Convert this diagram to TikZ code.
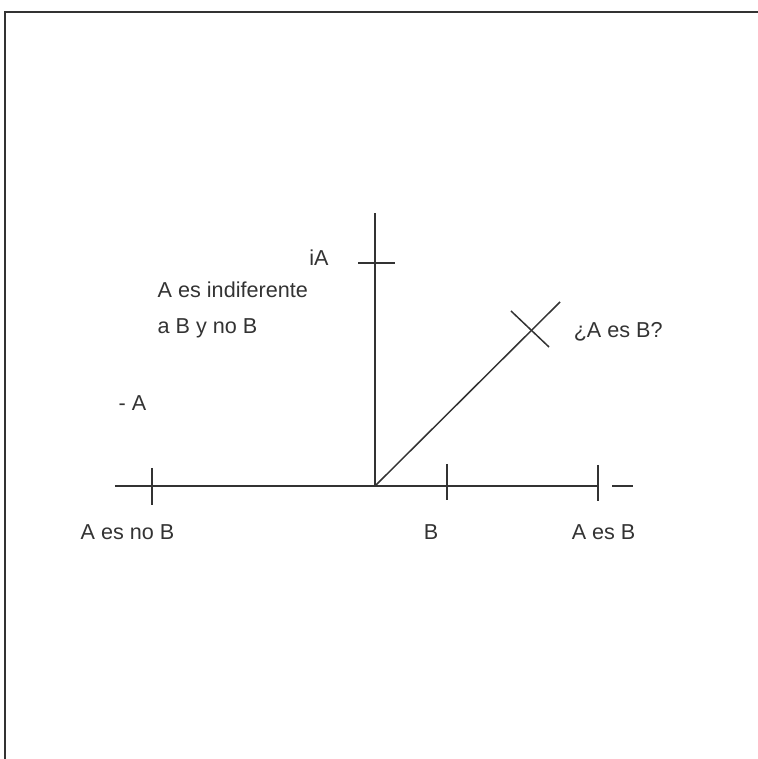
\documentclass[tikz,border=0pt]{standalone}
\usepackage{fontspec}
\setmainfont{Liberation Sans}
\begin{document}
\begin{tikzpicture}[x=0.5pt, y=0.5pt, line width=0.75pt, draw=black!80,
    lbl/.style={inner sep=0pt, text=black!80, font=\fontsize{10.8}{13}\selectfont}]
  \useasboundingbox (-375,-273) rectangle (383,486);
  \draw[line width=1pt] (383,474) -- (-370,474) -- (-370,-273);
  \coordinate (O) at (0,0);
  \coordinate (xl) at (-260,0);
  \coordinate (xr) at (223,0);
  \coordinate (yt) at (0,273);
  \coordinate (d) at (185,184);
  \draw (xl) -- (xr);
  \draw (237,0) -- (258,0);
  \draw (O) -- (yt);
  \draw (O) -- (d);
  \draw (-223,18) -- (-223,-19);
  \draw (72,22) -- (72,-14);
  \draw (223,21) -- (223,-15);
  \draw (-17,223) -- (20,223);
  \draw (136,175) -- (174,139);
  \node[lbl] (iA) at (-56,228) {iA};
  \node[lbl, anchor=west] (ind1) at (-218,196) {A es indiferente};
  \node[lbl, anchor=west] (ind2) at (-218,158) {a B y no B};
  \node[lbl, anchor=west] (negA) at (-257,83) {- A};
  \node[lbl, anchor=west] (pregunta) at (198,154) {¿A es B?};
  \node[lbl] (B) at (56,-46) {B};
  \node[lbl, anchor=west] (AesB) at (196,-46) {A es B};
  \node[lbl, anchor=west] (AesnoB) at (-295,-46) {A es no B};
\end{tikzpicture}
\end{document}
